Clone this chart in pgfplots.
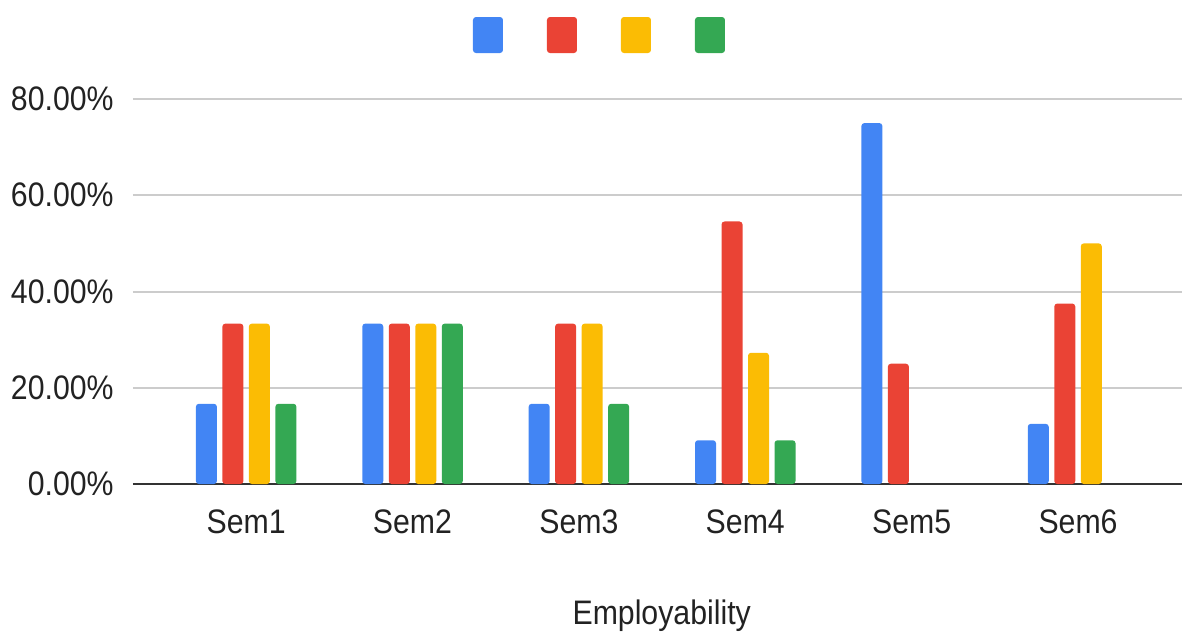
\documentclass[border=0pt]{standalone}
\usepackage{pgfplots}
\pgfplotsset{compat=1.18}
\usepackage{fontspec}
\setmainfont[FakeStretch=0.89]{Liberation Sans}
\definecolor{gblue}{HTML}{4285F4}
\definecolor{gred}{HTML}{EA4335}
\definecolor{gyellow}{HTML}{FBBC04}
\definecolor{ggreen}{HTML}{34A853}
\definecolor{txt}{HTML}{222222}
\definecolor{gridc}{HTML}{CCCCCC}
\definecolor{basec}{HTML}{333333}
\newcommand{\tfont}{\fontsize{17pt}{20pt}\selectfont}
\begin{document}
\begin{tikzpicture}
\path[use as bounding box] (-66.5pt,-74.5pt) rectangle (524.5pt,242pt);
\begin{axis}[
  at={(0pt,0pt)}, anchor=south west,
  scale only axis,
  width=524.5pt, height=192.5pt,
  xmin=-0.68, xmax=5.625,
  ymin=0, ymax=80,
  ybar=2.75pt, bar width=10.5pt,
  xtick={0,1,2,3,4,5},
  xticklabels={Sem1,Sem2,Sem3,Sem4,Sem5,Sem6},
  ytick={0,20,40,60,80},
  yticklabels={0.00\%,20.00\%,40.00\%,60.00\%,80.00\%},
  major tick length=0pt,
  tick label style={text=txt, font=\tfont},
  xticklabel style={anchor=base, inner sep=0pt, yshift=-24.5pt},
  yticklabel style={anchor=east, inner sep=0pt, xshift=-9.5pt},
  xlabel={Employability},
  xlabel style={at={(axis description cs:0.504,0)}, anchor=base, inner sep=0pt, yshift=-70pt, text=txt, font=\tfont},
  ymajorgrids,
  grid style={gridc, line width=1pt},
  axis x line*=bottom,
  axis y line*=left,
  x axis line style={basec, line width=1pt, -},
  y axis line style={draw=none},
  clip=false,
  legend columns=4,
  legend image code/.code={\fill[#1, draw=none, rounded corners=1.5pt] (0pt,-9pt) rectangle (15pt,9pt);},
  legend style={draw=none, fill=none, at={(axis description cs:0.3241,1.2130)}, anchor=north west,
    inner sep=0pt, outer sep=0pt, nodes={inner sep=0pt, outer sep=0pt},
    /tikz/every odd column/.append style={column sep=0pt},
    /tikz/every even column/.append style={column sep=21pt}},
]
\addplot[fill=gblue, draw=none, rounded corners=1.5pt] coordinates {(0,16.67) (1,33.33) (2,16.67) (3,9.09) (4,75) (5,12.5)};
\addlegendentry{\mbox{}}
\addplot[fill=gred, draw=none, rounded corners=1.5pt] coordinates {(0,33.33) (1,33.33) (2,33.33) (3,54.55) (4,25) (5,37.5)};
\addlegendentry{\mbox{}}
\addplot[fill=gyellow, draw=none, rounded corners=1.5pt] coordinates {(0,33.33) (1,33.33) (2,33.33) (3,27.27) (5,50)};
\addlegendentry{\mbox{}}
\addplot[fill=ggreen, draw=none, rounded corners=1.5pt] coordinates {(0,16.67) (1,33.33) (2,16.67) (3,9.09)};
\addlegendentry{\mbox{}}
\end{axis}
\end{tikzpicture}
\end{document}
